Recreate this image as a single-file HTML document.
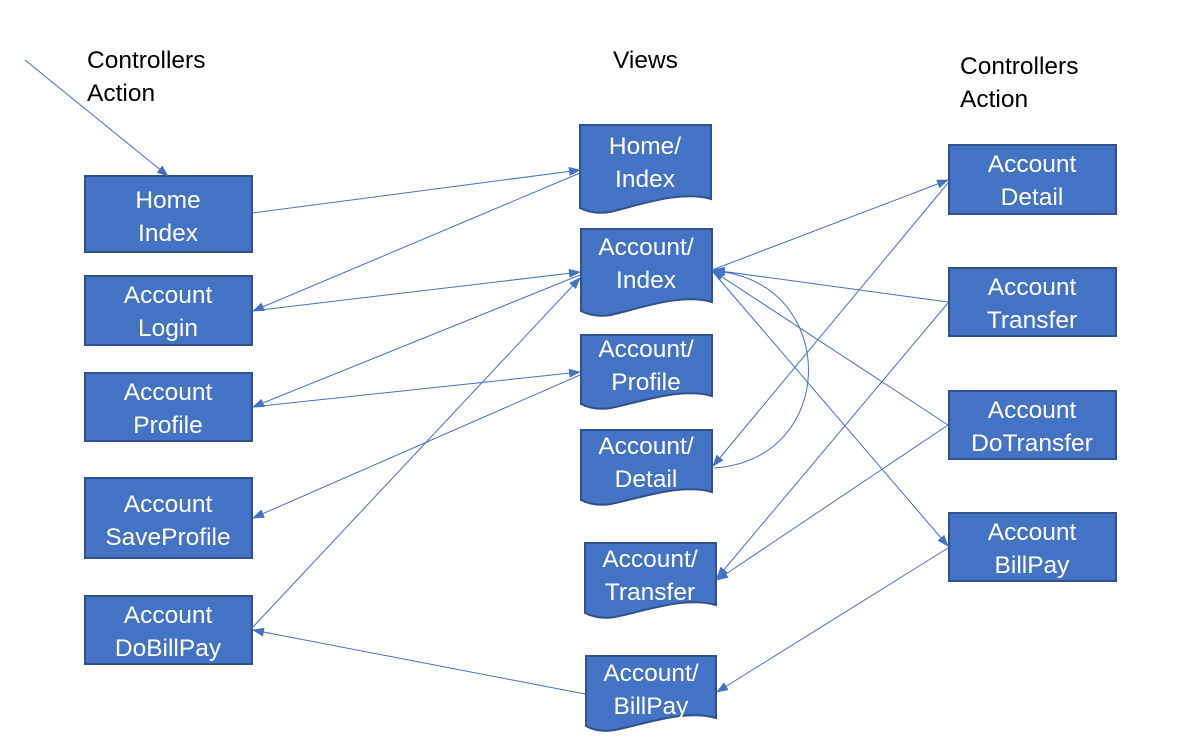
<!DOCTYPE html>
<html><head><meta charset="utf-8"><style>
html,body{margin:0;padding:0;background:#fff;}
svg{display:block}
text{font-family:"Liberation Sans",sans-serif;}
.b{fill:#4472C4;stroke:#2F528F;stroke-width:2}
.t{fill:#fff;font-size:24.5px;text-anchor:middle}
.h{fill:#000;font-size:24.5px}
.l{stroke:#4472C4;stroke-width:1;fill:none}
</style></head><body>
<svg width="1191" height="755" viewBox="0 0 1191 755">
<defs><marker id="a" markerWidth="12" markerHeight="9" refX="11" refY="4.5" orient="auto" markerUnits="userSpaceOnUse"><path d="M0,0 L12,4.5 L0,9 z" fill="#4472C4"/></marker></defs>
<text class="h" x="87" y="68">Controllers</text><text class="h" x="87" y="101">Action</text>
<text class="h" x="613" y="68">Views</text>
<text class="h" x="960" y="74">Controllers</text><text class="h" x="960" y="107">Action</text>

<rect class="b" x="85" y="176" width="167" height="76"/><text class="t" x="168" y="208">Home</text><text class="t" x="168" y="241">Index</text>
<rect class="b" x="85" y="276" width="167" height="69"/><text class="t" x="168" y="303">Account</text><text class="t" x="168" y="336">Login</text>
<rect class="b" x="85" y="373" width="167" height="68"/><text class="t" x="168" y="400">Account</text><text class="t" x="168" y="433">Profile</text>
<rect class="b" x="85" y="478" width="167" height="80"/><text class="t" x="168" y="512">Account</text><text class="t" x="168" y="545">SaveProfile</text>
<rect class="b" x="85" y="596" width="167" height="68"/><text class="t" x="168" y="623">Account</text><text class="t" x="168" y="656">DoBillPay</text>

<rect class="b" x="949" y="145" width="167" height="69"/><text class="t" x="1032" y="172">Account</text><text class="t" x="1032" y="205">Detail</text>
<rect class="b" x="949" y="268" width="167" height="68"/><text class="t" x="1032" y="295">Account</text><text class="t" x="1032" y="328">Transfer</text>
<rect class="b" x="949" y="391" width="167" height="68"/><text class="t" x="1032" y="418">Account</text><text class="t" x="1032" y="451">DoTransfer</text>
<rect class="b" x="949" y="513" width="167" height="68"/><text class="t" x="1032" y="540">Account</text><text class="t" x="1032" y="573">BillPay</text>

<g>
<path class="b" d="M580,125 H711 V199 C680,190 640,205 610,212 C598,214 588,212 580,208 Z"/><text class="t" x="645" y="154">Home/</text><text class="t" x="645" y="187">Index</text>
<path class="b" d="M581,229 H712 V302 C681,293 641,308 611,315 C599,317 589,315 581,311 Z"/><text class="t" x="646" y="255">Account/</text><text class="t" x="646" y="288">Index</text>
<path class="b" d="M581,335 H712 V396 C681,387 641,402 611,408 C599,410 589,408 581,404 Z"/><text class="t" x="646" y="357">Account/</text><text class="t" x="646" y="390">Profile</text>
<path class="b" d="M581,430 H712 V492 C681,483 641,498 611,504 C599,506 589,504 581,500 Z"/><text class="t" x="646" y="454">Account/</text><text class="t" x="646" y="487">Detail</text>
<path class="b" d="M585,543 H716 V605 C685,596 645,611 615,617 C603,619 593,617 585,613 Z"/><text class="t" x="650" y="567">Account/</text><text class="t" x="650" y="600">Transfer</text>
<path class="b" d="M586,656 H716 V718 C685,709 645,724 615,730 C603,732 593,730 586,726 Z"/><text class="t" x="651" y="681">Account/</text><text class="t" x="651" y="714">BillPay</text>
</g>

<line class="l" x1="25" y1="60" x2="168" y2="176" marker-end="url(#a)"/>
<line class="l" x1="252" y1="213" x2="580" y2="170" marker-end="url(#a)"/>
<line class="l" x1="580" y1="173" x2="253" y2="311" marker-end="url(#a)"/>
<line class="l" x1="252" y1="311" x2="580" y2="272" marker-end="url(#a)"/>
<line class="l" x1="580" y1="275" x2="253" y2="407" marker-end="url(#a)"/>
<line class="l" x1="252" y1="407" x2="580" y2="372" marker-end="url(#a)"/>
<line class="l" x1="580" y1="375" x2="253" y2="518" marker-end="url(#a)"/>
<line class="l" x1="252" y1="628" x2="580" y2="278" marker-end="url(#a)"/>
<line class="l" x1="585" y1="694" x2="253" y2="630" marker-end="url(#a)"/>
<line class="l" x1="712" y1="270" x2="948" y2="180" marker-end="url(#a)"/>
<line class="l" x1="948" y1="302" x2="713" y2="270" marker-end="url(#a)"/>
<line class="l" x1="948" y1="425" x2="713" y2="271" marker-end="url(#a)"/>
<line class="l" x1="713" y1="272" x2="948" y2="546" marker-end="url(#a)"/>
<path class="l" d="M714,468 C840,460 840,280 714,271" marker-end="url(#a)"/>
<line class="l" x1="948" y1="183" x2="713" y2="466" marker-end="url(#a)"/>
<line class="l" x1="948" y1="303" x2="717" y2="578" marker-end="url(#a)"/>
<line class="l" x1="948" y1="425" x2="717" y2="580" marker-end="url(#a)"/>
<line class="l" x1="948" y1="548" x2="717" y2="692" marker-end="url(#a)"/>
</svg>
</body></html>
